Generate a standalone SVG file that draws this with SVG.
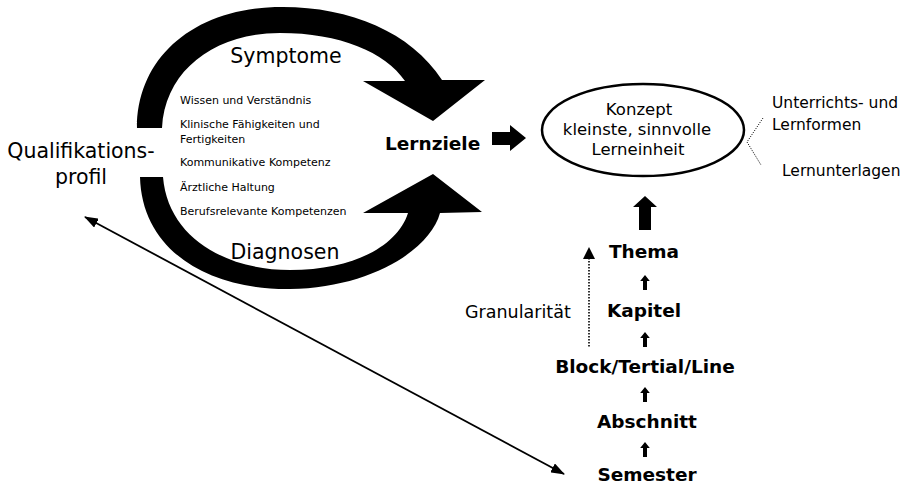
<svg xmlns="http://www.w3.org/2000/svg" width="903" height="489" viewBox="0 0 903 489">
<defs>
<style>
text{font-family:"DejaVu Sans","Liberation Sans",sans-serif;fill:#000}
.big{font-size:20.5px}
.sm{font-size:11px}
.mid{font-size:17.5px}
.ell{font-size:16.5px}
.side{font-size:15.5px}
.b{font-size:18.5px;font-weight:bold}
.c{text-anchor:middle}
.blk{fill:#000;stroke:none}
.dot{fill:none;stroke:#222;stroke-width:1;stroke-dasharray:1.2,1.2}
</style>
<marker id="ah" viewBox="0 0 14 10" refX="13" refY="5" markerWidth="14" markerHeight="10" markerUnits="userSpaceOnUse" orient="auto-start-reverse">
<path d="M0,0 L14,5 L0,10 Z" fill="#000"/>
</marker>
<path id="up" d="M0,-8 L4.8,-2 L2,-2 L2,7 L-2,7 L-2,-2 L-4.8,-2 Z"/>
</defs>
<rect width="903" height="489" fill="#fff"/>

<g id="cycle">
<path class="blk" d="M137,128 C137,60 190,10 275,7 C345,5 410,30 442,80 L485,80 L433,121 L363,81 L405,81 C385,52 340,33 280,33 C215,33 165,70 162,128 Z"/>
<path class="blk" d="M140,177 C142,252 210,290 290,289 C370,288 430,250 440,213 L482,212 L433,174 L363,213 L408,213 C398,245 355,270 290,270 C225,270 168,237 163,177 Z"/>
</g>

<g id="connectors">
<path class="blk" d="M492,132 L510,132 L510,125 L526,138 L510,151 L510,145 L492,145 Z"/>
<path class="blk" d="M645,196 L657,207 L651,207 L651,230 L639,230 L639,207 L633,207 Z"/>
<use href="#up" x="645" y="283"/>
<use href="#up" x="645" y="340"/>
<use href="#up" x="645" y="395"/>
<use href="#up" x="645" y="450"/>
<line x1="589" y1="258" x2="589" y2="347" stroke="#000" stroke-width="1.6" stroke-dasharray="1.5,1.5"/>
<path d="M589,247 L595,259 L583,259 Z" fill="#000"/>
<line x1="85" y1="217" x2="564" y2="474" stroke="#000" stroke-width="1.8" marker-start="url(#ah)" marker-end="url(#ah)"/>
<path class="dot" d="M763,118 L747,142 L761,165"/>
</g>

<g id="symptome"><text class="big c" x="286" y="63">Symptome</text></g>
<g id="diagnosen"><text class="big c" x="285" y="259">Diagnosen</text></g>
<g id="kompetenzen">
<text class="sm" x="180" y="104">Wissen und Verständnis</text>
<text class="sm" x="180" y="128">Klinische Fähigkeiten und</text>
<text class="sm" x="180" y="143">Fertigkeiten</text>
<text class="sm" x="180" y="166">Kommunikative Kompetenz</text>
<text class="sm" x="180" y="191">Ärztliche Haltung</text>
<text class="sm" x="180" y="215">Berufsrelevante Kompetenzen</text>
</g>
<g id="qualifikationsprofil">
<text class="big c" x="81" y="158">Qualifikations-</text>
<text class="big c" x="81" y="184">profil</text>
</g>
<g id="lernziele"><text class="b" x="385" y="150">Lernziele</text></g>
<g id="konzept">
<ellipse cx="643" cy="130" rx="101" ry="46" fill="none" stroke="#000" stroke-width="2.5"/>
<text class="ell c" x="639" y="115">Konzept</text>
<text class="ell c" x="637" y="135">kleinste, sinnvolle</text>
<text class="ell c" x="638" y="155">Lerneinheit</text>
</g>
<g id="lernformen">
<text class="side" x="772" y="108">Unterrichts- und</text>
<text class="side" x="772" y="130">Lernformen</text>
</g>
<g id="lernunterlagen"><text class="side" x="782" y="176">Lernunterlagen</text></g>
<g id="thema"><text class="b c" x="644" y="258">Thema</text></g>
<g id="kapitel"><text class="b c" x="644" y="317">Kapitel</text></g>
<g id="block"><text class="b c" x="645" y="373">Block/Tertial/Line</text></g>
<g id="abschnitt"><text class="b c" x="647" y="428">Abschnitt</text></g>
<g id="semester"><text class="b c" x="647" y="481">Semester</text></g>
<g id="granularitaet"><text class="mid" x="465" y="318">Granularität</text></g>
</svg>
